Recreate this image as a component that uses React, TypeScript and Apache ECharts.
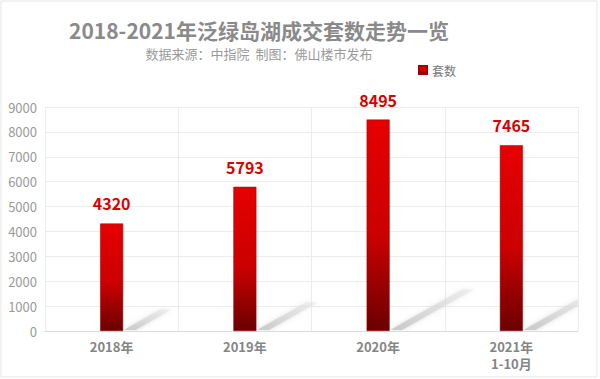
import React, { useEffect, useRef } from "react";
import * as echarts from "echarts";

const categories = ["2018年", "2019年", "2020年", "2021年\n1-10月"];
const values = [4320, 5793, 8495, 7465];
const seriesName = "套数";
const titleText = "2018-2021年泛绿岛湖成交套数走势一览";
const subtitleText = "数据来源：中指院  制图：佛山楼市发布";

export default function App() {
  const ref = useRef<HTMLDivElement>(null);
  useEffect(() => {
    document.body.style.margin = "0";
    const chart = echarts.init(ref.current!, null, { renderer: "svg" });
    const font = "'Noto Sans CJK SC', 'Noto Sans', sans-serif";
    chart.setOption({
      animation: false,
      backgroundColor: "#ffffff",
      textStyle: { fontFamily: font },
      legend: {
        data: [seriesName],
        left: 413,
        top: 59,
        itemWidth: 8,
        itemHeight: 8,
        itemGap: 4,
        textStyle: { fontSize: 12, color: "#777", fontFamily: font },
        icon: "rect",
      },
      graphic: [
        {
          type: "rect",
          shape: { x: 1, y: 1, width: 596, height: 376 },
          style: { fill: "none", stroke: "#e6e6e6", lineWidth: 1 },
          silent: true,
          z: -10,
        },
        {
          type: "text",
          x: 259,
          y: 30,
          style: {
            text: titleText,
            fontSize: 21,
            fontWeight: "bold",
            fill: "#8a8a8a",
            fontFamily: font,
            align: "center",
            verticalAlign: "middle",
          },
          silent: true,
        },
        {
          type: "text",
          x: 259,
          y: 53,
          style: {
            text: subtitleText,
            fontSize: 13,
            fill: "#9a9a9a",
            fontFamily: font,
            align: "center",
            verticalAlign: "middle",
          },
          silent: true,
        },
      ],
      grid: { left: 45, right: 22, top: 107, bottom: 48 },
      xAxis: {
        type: "category",
        data: categories,
        axisLine: { show: true, lineStyle: { color: "#dcdcdc" } },
        axisTick: { show: false },
        splitLine: { show: true, lineStyle: { color: "#ececec" } },
        axisLabel: {
          color: "#858585",
          fontWeight: "bold",
          fontSize: 13,
          lineHeight: 17,
          margin: 7,
          interval: 0,
          fontFamily: font,
        },
      },
      yAxis: {
        type: "value",
        min: 0,
        max: 9000,
        interval: 1000,
        axisLine: { show: false },
        axisTick: { show: false },
        splitLine: { show: true, lineStyle: { color: "#ececec" } },
        axisLabel: {
          color: "#9a9a9a",
          fontSize: 13,
          margin: 8,
          fontFamily: font,
          formatter: (v: number) => String(v),
        },
      },
      series: [
        {
          name: "shadow",
          type: "custom",
          silent: true,
          z: 1,
          clip: true,
          data: values.map((v, i) => [i, v]),
          renderItem: (params: any, api: any) => {
            const base = api.coord([api.value(0), 0]);
            const v = api.value(1);
            const dx = v * 0.0085;
            const dy = v * 0.0048;
            const x = base[0] + 12;
            const y = base[1];
            return {
              type: "polygon",
              shape: {
                points: [
                  [x, y - 1],
                  [x + dx, y - 1 - dy],
                  [x + dx + 12, y - 1 - dy],
                  [x + 12, y - 1],
                ],
              },
              style: {
                fill: new echarts.graphic.LinearGradient(0, 1, 1, 0, [
                  { offset: 0, color: "rgba(195,195,195,0.85)" },
                  { offset: 1, color: "rgba(225,225,225,0.35)" },
                ]),
                shadowBlur: 5,
                shadowColor: "rgba(200,200,200,0.8)",
              },
            };
          },
          tooltip: { show: false },
        },
        {
          name: seriesName,
          type: "bar",
          data: values,
          barWidth: 23,
          z: 2,
          itemStyle: {
            color: new echarts.graphic.LinearGradient(0, 0, 0, 1, [
              { offset: 0, color: "#e60000" },
              { offset: 0.55, color: "#cc0000" },
              { offset: 1, color: "#6a0000" },
            ]),
            borderColor: "#a00000",
            borderWidth: 0.5,
          },
          label: {
            show: true,
            position: "top",
            distance: 12,
            color: "#d90000",
            fontSize: 16,
            fontWeight: "bold",
            fontFamily: font,
          },
        },
      ],
    });
    return () => chart.dispose();
  }, []);
  return <div ref={ref} style={{ width: 600, height: 379 }} />;
}
